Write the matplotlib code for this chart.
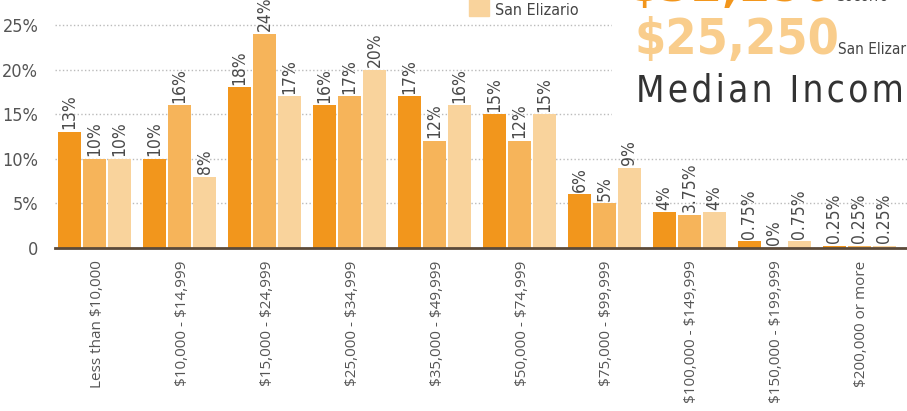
import matplotlib
matplotlib.use("Agg")
import matplotlib.pyplot as plt
import numpy as np
from matplotlib.patches import Rectangle
from matplotlib import font_manager as fm

plt.rcParams["text.parse_math"] = False

# household income distribution, % of households
categories = ["Less than $10,000", "$10,000 - $14,999", "$15,000 - $24,999",
              "$25,000 - $34,999", "$35,000 - $49,999", "$50,000 - $74,999",
              "$75,000 - $99,999", "$100,000 - $149,999", "$150,000 - $199,999",
              "$200,000 or more"]
region_a = [13, 10, 18, 16, 17, 15, 6, 4, 0.75, 0.25]
region_b = [10, 16, 24, 17, 12, 12, 5, 3.75, 0, 0.25]
san_elizario = [10, 8, 17, 20, 16, 15, 9, 4, 0.75, 0.25]
yticks = [0, 5, 10, 15, 20, 25]
ytick_labels = ["0", "5%", "10%", "15%", "20%", "25%"]

colors = ["#F2961C", "#F6B45A", "#F9D39C"]


def narrow_font(weight="normal"):
    # look for any condensed face that is installed, else a plain sans
    for fam in ["Liberation Sans Narrow", "DejaVu Sans", "Roboto", "Open Sans"]:
        try:
            path = fm.findfont(fm.FontProperties(family=fam, stretch="condensed",
                                                 weight=weight),
                               fallback_to_default=False)
        except Exception:
            continue
        low = path.lower()
        if "condensed" in low or "narrow" in low:
            return fm.FontProperties(fname=path), True
    return fm.FontProperties(family="Roboto", weight=weight), False


NARROW, IS_NARROW = narrow_font()
NARROW_B, _ = narrow_font("bold")


def np_(size):
    p = NARROW.copy()
    p.set_size(size if IS_NARROW else size * 0.85)
    return p


def npb(size):
    p = NARROW_B.copy()
    p.set_size(size if IS_NARROW else size * 0.85)
    p.set_weight("bold")
    return p


def pct(v):
    return f"{v:g}%" if float(v).is_integer() else f"{v:.2f}%"


W, H = 907, 411
fig = plt.figure(figsize=(W / 100, H / 100), dpi=100)
ax = fig.add_axes([55 / W, (H - 248) / H, 1 - 55 / W, 248 / H])

x = np.arange(len(categories))
step, width = 25 / 85, 23 / 85
for k, (vals, c) in enumerate(zip([region_a, region_b, san_elizario], colors)):
    xs = x + (k - 1) * step
    ax.bar(xs, vals, width=width, color=c, zorder=2)
    for xi, v in zip(xs, vals):
        ax.text(xi, v + 0.3, pct(v), rotation=90, ha="center", va="bottom",
                fontproperties=np_(12.5), color="#4a4a4a", clip_on=False)

ax.set_xlim(-0.465, 9.56)
ax.set_ylim(0, 27.8)
ax.set_yticks(yticks)
ax.set_yticklabels(ytick_labels, fontproperties=np_(13), color="#555555")
ax.set_xticks(x + 0.03)
ax.set_xticklabels(categories, rotation=90, ha="center", va="top",
                   family="Open Sans", fontsize=11, color="#555555")
ax.tick_params(length=0, axis="both")
ax.tick_params(axis="x", pad=9)
ax.tick_params(axis="y", pad=12)
ax.grid(axis="y", ls=":", color="#bbbbbb", lw=1, zorder=0)
for s in ["left", "right", "top"]:
    ax.spines[s].set_visible(False)
ax.spines["bottom"].set_color("#5b4a3a")
ax.spines["bottom"].set_linewidth(2)

# white panel holding the median income headline
fig.patches.append(Rectangle((612 / W, 1 - 124 / H), 1, 124 / H,
                             transform=fig.transFigure, color="white", zorder=3))

# legend entry (upper entries fall outside the crop)
fig.patches.append(Rectangle((469 / W, 1 - 16 / H), 20 / W, 20 / H,
                             transform=fig.transFigure, color=colors[2], zorder=4))
fig.text(495 / W, 1 - 15 / H, "San Elizario", fontproperties=np_(11.5),
         color="#444444", va="baseline", zorder=5)

fig.text(628 / W, 1 - 1 / H, "$32,250", fontproperties=npb(36),
         color=colors[0], va="baseline", zorder=5)
fig.text(836 / W, 1 - 1 / H, "Socorro", fontproperties=np_(11),
         color="#444444", va="baseline", zorder=5)
fig.text(634 / W, 1 - 54 / H, "$25,250", fontproperties=npb(36),
         color="#F9CD8C", va="baseline", zorder=5)
fig.text(838 / W, 1 - 54 / H, "San Elizario", fontproperties=np_(11),
         color="#444444", va="baseline", zorder=5)
fig.text(636 / W, 1 - 101 / H, "\u200a".join("Median Income"),
         fontproperties=np_(26.5), color="#333333", va="baseline", zorder=5)

fig.savefig("out.png", dpi=100)
